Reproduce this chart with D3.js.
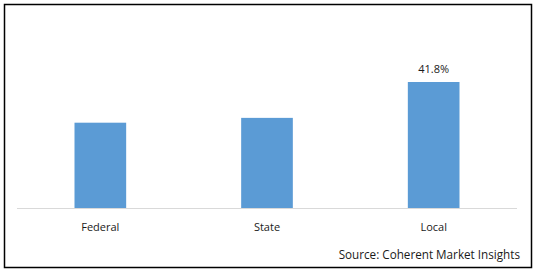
<!DOCTYPE html>
<html>
<head>
<meta charset="utf-8">
<script src="https://cdn.jsdelivr.net/npm/d3@7"></script>
<style>
  body { margin: 0; background: #fff; }
  text { font-family: "Open Sans", "Noto Sans", sans-serif; fill: #1a1a1a; }
</style>
</head>
<body>
<div id="chart-area"></div>
<script>
const W = 534, H = 271
const MARGIN = { LEFT: 17, RIGHT: 17, TOP: 0, BOTTOM: 63 }

// data
const categories = ["Federal", "State", "Local"]
const shares = [28.3, 29.9, 41.8]
const shownLabels = ["", "", "41.8%"]

const svg = d3.select("#chart-area").append("svg")
  .attr("width", W)
  .attr("height", H)

// outer frame
svg.append("rect")
  .attr("x", 4.5).attr("y", 4.5)
  .attr("width", 527).attr("height", 263)
  .attr("fill", "none")
  .attr("stroke", "#000")
  .attr("stroke-width", 1.5)

const x = d3.scaleBand()
  .domain(categories)
  .range([MARGIN.LEFT, W - MARGIN.RIGHT])
  .paddingInner(0.69)
  .paddingOuter(0.345)

const y = d3.scaleLinear()
  .domain([0, 50])
  .range([208, 208 - 50 * (126 / 41.8)])

const data = categories.map((c, i) => ({ cat: c, v: shares[i], lab: shownLabels[i] }))

svg.selectAll("rect.bar")
  .data(data)
  .join("rect")
  .attr("class", "bar")
  .attr("x", d => x(d.cat))
  .attr("y", d => y(d.v))
  .attr("width", x.bandwidth())
  .attr("height", d => y(0) - y(d.v))
  .attr("fill", "#5b9bd5")

// baseline
svg.append("line")
  .attr("x1", MARGIN.LEFT).attr("x2", W - MARGIN.RIGHT)
  .attr("y1", y(0) + 0.5).attr("y2", y(0) + 0.5)
  .attr("stroke", "#d9d9d9")

// category labels
svg.selectAll("text.cat")
  .data(data)
  .join("text")
  .attr("class", "cat")
  .attr("x", d => x(d.cat) + x.bandwidth() / 2)
  .attr("y", 231)
  .attr("text-anchor", "middle")
  .style("font-size", "11px")
  .text(d => d.cat)

// value labels
svg.selectAll("text.val")
  .data(data.filter(d => d.lab))
  .join("text")
  .attr("class", "val")
  .attr("x", d => x(d.cat) + x.bandwidth() / 2)
  .attr("y", d => y(d.v) - 9)
  .attr("text-anchor", "middle")
  .style("font-size", "11px")
  .text(d => d.lab)

svg.append("text")
  .attr("x", 520)
  .attr("y", 259)
  .attr("text-anchor", "end")
  .style("font-size", "11.7px")
  .text("Source: Coherent Market Insights")
</script>
</body>
</html>
